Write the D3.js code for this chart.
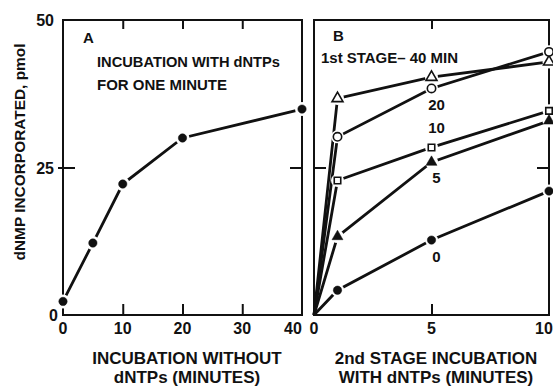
<!DOCTYPE html>
<html>
<head>
<meta charset="utf-8">
<script src="https://cdn.jsdelivr.net/npm/d3@7"></script>
<style>
  body { margin: 0; background: #fff; }
  svg text { font-family: "Liberation Sans", Arial, sans-serif; font-weight: bold; fill: #111; }
</style>
</head>
<body>
<svg id="chart" width="553" height="386"></svg>
<script>
// panel A
const aTime = [0, 5, 10, 20, 40];
const aValues = [2.3, 12.2, 22.2, 30.0, 34.9];
const aTicks = [0, 10, 20, 30, 40];

// panel B
const bTime = [0, 1, 5, 10];
const bStage = ['40', '20', '10', '5', '0'];
const b40 = [0, 36.7, 40.3, 42.9];
const b20 = [0, 30.2, 38.4, 44.6];
const b10 = [0, 22.8, 28.4, 34.6];
const b5 = [0, 13.3, 25.9, 32.9];
const b0 = [0, 4.2, 12.7, 21.0];
const bTicks = [0, 5, 10];
const yTicks = [0, 25, 50];

const svg = d3.select('#chart');
const yTop = 20, yBottom = 315;

const y = d3.scaleLinear().domain([0, 50]).range([yBottom, yTop]);
const xA = d3.scaleLinear().domain([0, 40]).range([63, 302]);
const xB = d3.scaleLinear().domain([0, 10]).range([314, 549]);

function frame(x) {
    const [x0, x1] = x.range();
    svg.append('rect')
       .attr('x', x0).attr('y', yTop)
       .attr('width', x1 - x0).attr('height', yBottom - yTop)
       .attr('fill', 'none').attr('stroke', '#111').attr('stroke-width', 2);
}

function innerTicks(x, ticks) {
    const inner = ticks.filter(t => t !== x.domain()[0] && t !== x.domain()[1]);
    // bottom, pointing up
    svg.append('g').attr('transform', 'translate(0,' + yBottom + ')')
       .call(d3.axisBottom(x).tickValues(inner).tickSize(-11).tickFormat(''))
       .call(g => g.select('.domain').remove());
    // top, pointing down
    svg.append('g').attr('transform', 'translate(0,' + yTop + ')')
       .call(d3.axisTop(x).tickValues(inner).tickSize(-9).tickFormat(''))
       .call(g => g.select('.domain').remove());
    const [x0, x1] = x.range();
    svg.append('g').attr('transform', 'translate(' + x0 + ',0)')
       .call(d3.axisLeft(y).tickValues([25]).tickSize(-12).tickFormat(''))
       .call(g => g.select('.domain').remove());
    svg.append('g').attr('transform', 'translate(' + x1 + ',0)')
       .call(d3.axisRight(y).tickValues([25]).tickSize(-12).tickFormat(''))
       .call(g => g.select('.domain').remove());
    svg.selectAll('.tick line').attr('stroke', '#111').attr('stroke-width', 2);
}

frame(xA);
frame(xB);
innerTicks(xA, aTicks);
innerTicks(xB, bTicks);

// outward tick at 25 on the left of panel A
svg.append('g').attr('transform', 'translate(63,0)')
   .call(d3.axisLeft(y).tickValues([25]).tickSize(5).tickFormat(''))
   .call(g => g.select('.domain').remove())
   .selectAll('line').attr('stroke', '#111').attr('stroke-width', 2);

// y tick labels
svg.append('g').selectAll('text').data(yTicks).enter().append('text')
   .attr('x', d => d === 0 ? 58 : 54)
   .attr('y', d => y(d) + 6)
   .attr('text-anchor', 'end')
   .attr('font-size', 16)
   .text(d => d);

// x tick labels
svg.append('g').selectAll('text').data(aTicks).enter().append('text')
   .attr('x', d => d === 40 ? xA(d) - 9 : xA(d))
   .attr('y', 334)
   .attr('text-anchor', 'middle')
   .attr('font-size', 16)
   .text(d => d);
svg.append('g').selectAll('text').data(bTicks).enter().append('text')
   .attr('x', d => d === 10 ? xB(d) - 5 : xB(d))
   .attr('y', 334)
   .attr('text-anchor', 'middle')
   .attr('font-size', 16)
   .text(d => d);

// axis titles
svg.append('text')
   .attr('transform', 'translate(25,152) rotate(-90)')
   .attr('text-anchor', 'middle').attr('font-size', 14)
   .attr('textLength', 217).attr('lengthAdjust', 'spacingAndGlyphs')
   .text('dNMP INCORPORATED, pmol');

const titleA = ['INCUBATION WITHOUT', 'dNTPs (MINUTES)'];
const titleB = ['2nd STAGE INCUBATION', 'WITH dNTPs (MINUTES)'];
[[titleA, 187], [titleB, 436]].forEach(([lines, cx]) => {
    svg.append('g').selectAll('text').data(lines).enter().append('text')
       .attr('x', cx).attr('y', (d, i) => 364 + i * 19)
       .attr('text-anchor', 'middle').attr('font-size', 17)
       .text(d => d);
});

// panel labels
svg.append('text').attr('x', 83).attr('y', 43).attr('font-size', 15).text('A');
svg.append('text').attr('x', 97).attr('y', 67).attr('font-size', 14)
   .attr('textLength', 183).attr('lengthAdjust', 'spacingAndGlyphs').text('INCUBATION WITH dNTPs');
svg.append('text').attr('x', 97).attr('y', 90).attr('font-size', 14)
   .attr('textLength', 130).attr('lengthAdjust', 'spacingAndGlyphs').text('FOR ONE MINUTE');
svg.append('text').attr('x', 333).attr('y', 41).attr('font-size', 15).text('B');
svg.append('text').attr('x', 321).attr('y', 63).attr('font-size', 14)
   .attr('textLength', 137).attr('lengthAdjust', 'spacingAndGlyphs').text('1st STAGE\u2013 40 MIN');

const line = x => d3.line().x(d => x(d[0])).y(d => y(d[1]));

function marker(g, type, filled, pts) {
    const sym = d3.symbol().type(type).size(type === d3.symbolCircle ? 55 : (type === d3.symbolSquare ? 42 : 52));
    g.selectAll(null).data(pts).enter().append('path')
     .attr('transform', d => 'translate(' + d[0] + ',' + d[1] + ')')
     .attr('d', sym)
     .attr('fill', filled ? '#111' : '#fff')
     .attr('stroke', '#111')
     .attr('stroke-width', filled ? 0.5 : 1.6);
}

// panel A line
const gA = svg.append('g');
const aPts = aTime.map((t, i) => [t, aValues[i]]);
gA.append('path').attr('d', line(xA)(aPts))
  .attr('fill', 'none').attr('stroke', '#111').attr('stroke-width', 2.8);
// white gaps round the points
gA.selectAll(null).data(aPts).enter().append('circle')
  .attr('cx', d => xA(d[0])).attr('cy', d => y(d[1])).attr('r', 7).attr('fill', '#fff');
marker(gA, d3.symbolCircle, true, aPts.map(d => [xA(d[0]), y(d[1])]));

// panel B lines
const bSeries = [b40, b20, b10, b5, b0];
const bSymbols = [
    [d3.symbolTriangle, false],
    [d3.symbolCircle, false],
    [d3.symbolSquare, false],
    [d3.symbolTriangle, true],
    [d3.symbolCircle, true]
];
const gB = svg.append('g');
bSeries.forEach(vals => {
    const pts = bTime.map((t, i) => [t, vals[i]]);
    gB.append('path').attr('d', line(xB)(pts))
      .attr('fill', 'none').attr('stroke', '#111').attr('stroke-width', 2.8);
});
bSeries.forEach(vals => {
    const pts = bTime.slice(1).map((t, i) => [xB(t), y(vals[i + 1])]);
    gB.selectAll(null).data(pts).enter().append('circle')
      .attr('cx', d => d[0]).attr('cy', d => d[1]).attr('r', 6.5).attr('fill', '#fff');
});
bSeries.forEach((vals, k) => {
    const pts = bTime.slice(1).map((t, i) => [xB(t), y(vals[i + 1])]);
    marker(gB, bSymbols[k][0], bSymbols[k][1], pts);
});

// series labels near 5 min
const labelY = [null, 110, 133, 183, 262];
bStage.forEach((s, i) => {
    if (labelY[i] === null) return;
    svg.append('text').attr('x', xB(5) + 5).attr('y', labelY[i])
       .attr('text-anchor', 'middle').attr('font-size', 15).text(s);
});
</script>
</body>
</html>
